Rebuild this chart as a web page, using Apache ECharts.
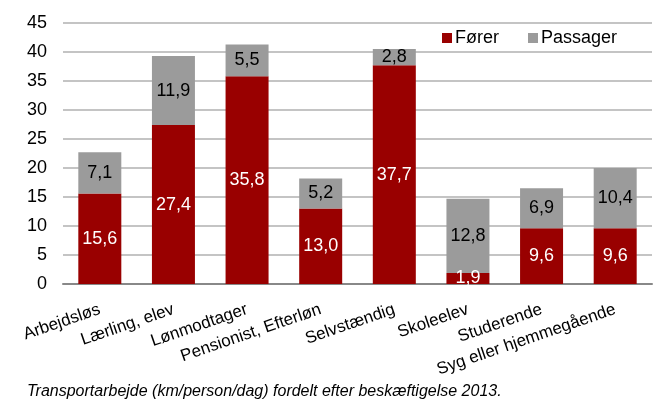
<!DOCTYPE html>
<html>
<head>
<meta charset="utf-8">
<script src="https://cdn.jsdelivr.net/npm/echarts@6/dist/echarts.min.js"></script>
<style>
    body { margin: 0; background: #fff; }
    #main { width: 657px; height: 401px; }
</style>
</head>
<body>
<div id="main"></div>
<script>
// data
var categories = ['Arbejdsløs', 'Lærling, elev', 'Lønmodtager', 'Pensionist, Efterløn', 'Selvstændig', 'Skoleelev', 'Studerende', 'Syg eller hjemmegående'];
var forerValues = [15.6, 27.4, 35.8, 13.0, 37.7, 1.9, 9.6, 9.6];
var passagerValues = [7.1, 11.9, 5.5, 5.2, 2.8, 12.8, 6.9, 10.4];

var myChart = echarts.init(document.getElementById('main'));

// komma som decimaltegn
var fmt = function (params) {
    return params.value.toFixed(1).replace('.', ',');
};

var option = {
    animation: false,
    textStyle: { fontFamily: 'Liberation Sans, Arial, sans-serif' },
    grid: { left: 63, right: 5, top: 23, bottom: 117 },
    legend: {
        left: 437,
        top: 24,
        itemWidth: 10,
        itemHeight: 10,
        itemGap: 29,
        icon: 'rect',
        textStyle: { fontSize: 18, color: '#000', padding: [0, 0, 0, -2] },
        data: ['Fører', 'Passager']
    },
    xAxis: {
        type: 'category',
        data: categories,
        axisLine: { lineStyle: { color: '#888', width: 2 } },
        axisTick: { show: false },
        axisLabel: {
            rotate: 19,
            fontSize: 17,
            color: '#000',
            interval: 0,
            margin: 25
        }
    },
    yAxis: {
        type: 'value',
        min: 0,
        max: 45,
        interval: 5,
        axisLine: { show: false },
        axisTick: { show: false },
        axisLabel: { fontSize: 18, color: '#000', margin: 16 },
        splitLine: { lineStyle: { color: '#c4c4c4', width: 2 } }
    },
    series: [
        {
            name: 'Fører',
            type: 'bar',
            stack: 'total',
            barWidth: 43,
            data: forerValues,
            itemStyle: { color: '#990000' },
            label: { show: true, position: 'inside', color: '#fff', fontSize: 18, formatter: fmt }
        },
        {
            name: 'Passager',
            type: 'bar',
            stack: 'total',
            barWidth: 43,
            data: passagerValues,
            itemStyle: { color: '#9b9b9b' },
            label: { show: true, position: 'inside', color: '#000', fontSize: 18, formatter: fmt }
        }
    ],
    graphic: [
        {
            type: 'text',
            left: 27,
            top: 384,
            style: {
                text: 'Transportarbejde (km/person/dag) fordelt efter beskæftigelse 2013.',
                font: 'italic 16px Liberation Sans, Arial, sans-serif',
                fill: '#000'
            }
        }
    ]
};

myChart.setOption(option);
</script>
</body>
</html>
